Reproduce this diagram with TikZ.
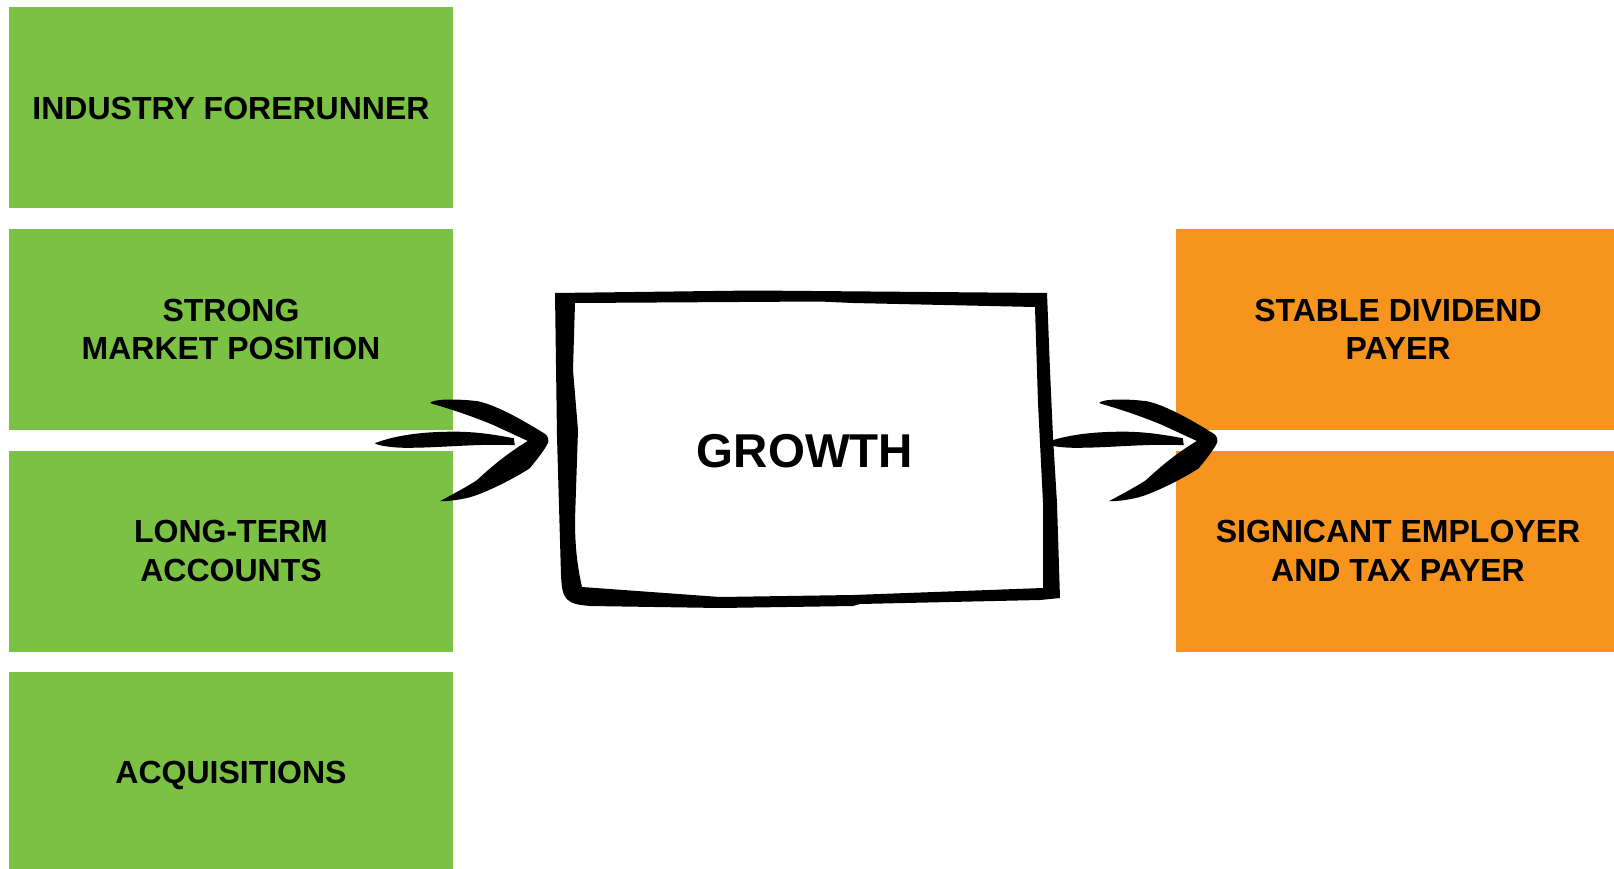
\documentclass[tikz,border=0pt]{standalone}
\usepackage{fontspec}
\setmainfont{Liberation Sans}
\usetikzlibrary{positioning,calc}
\definecolor{gwgreen}{RGB}{123,193,67}
\definecolor{gworange}{RGB}{247,148,30}
\tikzstyle{driver} = [rectangle, minimum width=444pt, minimum height=201pt, text centered, align=center, text depth=0pt, fill=gwgreen, font=\bfseries\fontsize{32}{38.4}\selectfont]
\tikzstyle{outcome} = [driver, fill=gworange]
\tikzstyle{brush} = [fill=black]
\tikzset{brusharrow/.pic={
  % shaft
  \fill[brush] (-173,3) .. controls (-150,-6) and (-120,-9) .. (-88,-8.5) .. controls (-65,-8) and (-45,-4) .. (-34,-2) -- (-33,5) .. controls (-70,3) and (-110,8) .. (-145,7.5) .. controls (-160,7) and (-170,5) .. cycle;
  % head
  \fill[brush] (-117,-38) .. controls (-110,-42) and (-85,-41) .. (-70,-39) .. controls (-50,-35) and (-20,-17) .. (-3,-6.5) .. controls (1,-4) and (1,1) .. (0,3) .. controls (-3,9) and (-9,17) .. (-18,28) .. controls (-30,36) and (-60,52) .. (-78,57) .. controls (-90,60) and (-100,61) .. (-108,61) .. controls (-95,54) and (-80,46) .. (-71,40) .. controls (-60,30) and (-45,16) .. (-20,0.7) -- (-54,-15) .. controls (-75,-24) and (-100,-32) .. (-114,-36) .. controls (-118,-37) and (-118,-38) .. cycle;
}}

\begin{document}
\begin{tikzpicture}[x=1pt, y=-1pt]
\useasboundingbox (0,0) rectangle (1614,869);
% Drivers
\node (forerunner) [driver] at (231,108) {INDUSTRY FORERUNNER};
\node (strong) [driver, below of=forerunner, node distance=221.5pt] {STRONG\\MARKET POSITION};
\node (long) [driver, below of=strong, node distance=221.5pt] {LONG-TERM\\ACCOUNTS};
\node (acq) [driver, below of=long, node distance=221.5pt] {ACQUISITIONS};

% Outcomes
\node (stable) [outcome] at (1398,329.5) {STABLE DIVIDEND\\PAYER};
\node (employer) [outcome, below of=stable, node distance=221.5pt] {SIGNICANT EMPLOYER\\AND TAX PAYER};

% Growth
\node (growth) [minimum width=514pt, minimum height=300pt, font=\bfseries\fontsize{47.5}{57}\selectfont] at (805,451) {GROWTH};

% Brush arrows
\coordinate (gapL) at ($(strong.south)!0.5!(long.north)$);
\coordinate (gapR) at ($(stable.south)!0.5!(employer.north)$);
\pic at (gapL -| growth.west) {brusharrow};
\pic at ([xshift=41pt]gapR -| employer.west) {brusharrow};

% Sketchy frame
\fill[brush, even odd rule]
  (555,293) -- (753,290.5) -- (1047,293) -- (1050,370) -- (1053,437) -- (1057,503) -- (1060,598) -- (1040,600) -- (860,604) -- (853,606) -- (720,608) -- (590,606) .. controls (566,604) and (562,600) .. (561,575) -- (557,437) -- cycle
  (575,303) -- (820,301.5) -- (853,303) -- (1035,307) -- (1038,403) -- (1043,503) -- (1043,588) -- (853,595) -- (720,597) -- (582,587) .. controls (577,565) and (575,545) .. (575,520) -- (578,430) -- (573,370) -- cycle;
\end{tikzpicture}
\end{document}
